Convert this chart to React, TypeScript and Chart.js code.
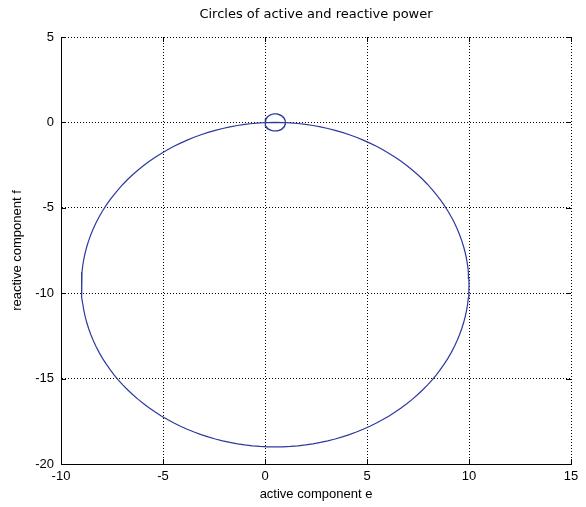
import React, { useEffect, useRef } from "react";
import { Chart, registerables } from "chart.js";

Chart.register(...registerables);

// Circles plotted in the (e, f) plane: centre coordinates and radius of each
const circleNames = ["power circle", "small circle"];
const centerE = [0.5, 0.5];
const centerF = [-9.5, 0];
const radius = [9.5, 0.5];

// Axis ticks
const eTicks = [-10, -5, 0, 5, 10, 15];
const fTicks = [-20, -15, -10, -5, 0, 5];

const LINE_COLOR = "#2c3a9c";
const FONT = "'Liberation Sans', Arial, sans-serif";
const TITLE_FONT = "'DejaVu Sans', sans-serif";
const SEGMENTS = 160;

function outline(i: number) {
  const pts: { x: number; y: number }[] = [];
  for (let k = 0; k <= SEGMENTS; k++) {
    const t = (2 * Math.PI * k) / SEGMENTS;
    pts.push({ x: centerE[i] + radius[i] * Math.cos(t), y: centerF[i] + radius[i] * Math.sin(t) });
  }
  return pts;
}

export default function App() {
  const canvasRef = useRef<HTMLCanvasElement | null>(null);

  useEffect(() => {
    const canvas = canvasRef.current;
    if (!canvas) return;
    const chart = new Chart(canvas, {
      type: "scatter",
      data: {
        datasets: circleNames.map((name, i) => ({
          label: name,
          data: outline(i),
          showLine: true,
          borderColor: LINE_COLOR,
          borderWidth: 1.2,
          pointRadius: 0,
          fill: false,
          tension: 0,
        })),
      },
      options: {
        animation: false,
        responsive: true,
        maintainAspectRatio: false,
        layout: { padding: { top: 0, right: 15, bottom: 0, left: 0 } },
        plugins: {
          legend: { display: false },
          tooltip: { enabled: false },
          title: {
            display: true,
            fullSize: false,
            text: "Circles of active and reactive power",
            color: "#000",
            font: { family: TITLE_FONT, size: 13, weight: "normal", lineHeight: 1.2 },
            padding: { top: 7, bottom: 14.4 },
          },
        },
        scales: {
          x: {
            type: "linear",
            min: -10,
            max: 15,
            afterBuildTicks: (s: any) => {
              s.ticks = eTicks.map((v) => ({ value: v }));
            },
            afterFit: (s: any) => {
              s.height = 43;
            },
            ticks: { color: "#000", padding: 5, font: { family: FONT, size: 13 }, maxRotation: 0 },
            grid: { color: "#000", lineWidth: 1, drawTicks: false, tickLength: 0 },
            border: { display: true, color: "#000", width: 1, dash: [1, 2] },
            title: {
              display: true,
              text: "active component e",
              color: "#000",
              font: { family: FONT, size: 13, lineHeight: 1.2 },
              padding: { top: 0, bottom: 5 },
            },
          },
          y: {
            type: "linear",
            min: -20,
            max: 5,
            afterBuildTicks: (s: any) => {
              s.ticks = fTicks.map((v) => ({ value: v }));
            },
            afterFit: (s: any) => {
              s.width = 61;
            },
            ticks: { color: "#000", padding: 7, font: { family: FONT, size: 13 } },
            grid: { color: "#000", lineWidth: 1, drawTicks: false, tickLength: 0 },
            border: { display: true, color: "#000", width: 1, dash: [1, 2] },
            title: {
              display: true,
              text: "reactive component f",
              color: "#000",
              font: { family: FONT, size: 13, lineHeight: 1.2 },
              padding: { top: 10, bottom: 0 },
            },
          },
        },
      },
      plugins: [
        {
          id: "solidAxes",
          afterDatasetsDraw(c: any) {
            const { ctx, chartArea } = c;
            ctx.save();
            ctx.strokeStyle = "#000";
            ctx.lineWidth = 1;
            ctx.setLineDash([]);
            ctx.beginPath();
            ctx.moveTo(chartArea.left + 0.5, chartArea.top);
            ctx.lineTo(chartArea.left + 0.5, chartArea.bottom + 0.5);
            ctx.lineTo(chartArea.right, chartArea.bottom + 0.5);
            ctx.stroke();
            // inward tick marks
            const xs = c.scales.x;
            const ys = c.scales.y;
            ctx.beginPath();
            eTicks.forEach((v) => {
              const px = Math.round(xs.getPixelForValue(v)) + 0.5;
              ctx.moveTo(px, chartArea.bottom);
              ctx.lineTo(px, chartArea.bottom - 5);
              ctx.moveTo(px, chartArea.top);
              ctx.lineTo(px, chartArea.top + 5);
            });
            fTicks.forEach((v) => {
              const py = Math.round(ys.getPixelForValue(v)) + 0.5;
              ctx.moveTo(chartArea.left, py);
              ctx.lineTo(chartArea.left + 5, py);
              ctx.moveTo(chartArea.right, py);
              ctx.lineTo(chartArea.right - 5, py);
            });
            ctx.stroke();
            ctx.restore();
          },
        },
      ],
    } as any);
    return () => chart.destroy();
  }, []);

  return (
    <div style={{ position: "absolute", left: 0, top: 0, width: 586, height: 507, background: "#fff" }}>
      <canvas ref={canvasRef} />
    </div>
  );
}
